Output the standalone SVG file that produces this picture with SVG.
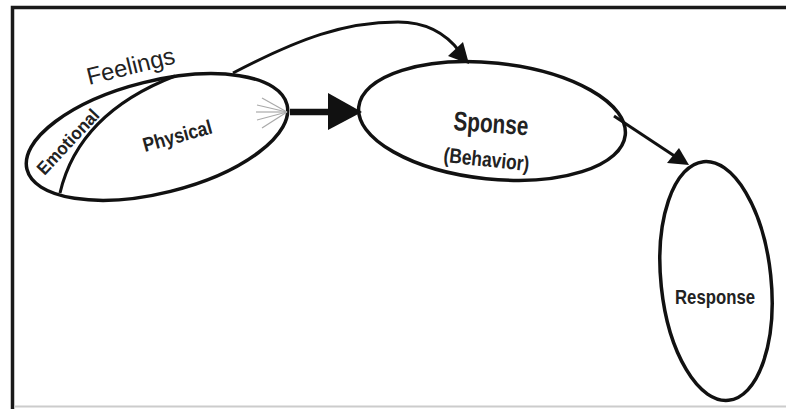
<svg xmlns="http://www.w3.org/2000/svg" width="786" height="409" viewBox="0 0 786 409">
<defs>
<style>
.node{fill:#fff;stroke:#111;stroke-width:3.5}
.lbl{font-family:"Liberation Sans",Arial,sans-serif;fill:#222}
.b{font-weight:bold}
.conn{fill:none;stroke:#111;stroke-width:3}
.ray{stroke:#aaa;stroke-width:1.2}
</style>
</defs>
<rect x="0" y="0" width="786" height="409" fill="#fff"/>
<path d="M12.5,409 V7.5 H786" fill="none" stroke="#1a1a1a" stroke-width="3.5"/>
<line x1="14" y1="406.5" x2="786" y2="406.5" stroke="#ccc" stroke-width="2"/>

<g id="feelings">
<ellipse class="node" cx="157" cy="137" rx="134" ry="56" transform="rotate(-14 157 137)" stroke-width="3.8"/>
<path d="M60,193 C70,150 100,105 175,76" fill="none" stroke="#111" stroke-width="3"/>
<g class="ray">
<line x1="287" y1="112" x2="262" y2="98"/>
<line x1="287" y1="112" x2="257" y2="105"/>
<line x1="287" y1="112" x2="256" y2="112"/>
<line x1="287" y1="112" x2="257" y2="120"/>
<line x1="287" y1="112" x2="262" y2="128"/>
</g>
<text class="lbl" transform="translate(89,85) rotate(-14)" font-size="24" textLength="90" lengthAdjust="spacingAndGlyphs" fill="#333">Feelings</text>
<text class="lbl b" transform="translate(68,142) rotate(-47)" font-size="18" text-anchor="middle" dy="6" textLength="82" lengthAdjust="spacingAndGlyphs">Emotional</text>
<text class="lbl b" transform="translate(145,152) rotate(-15.5)" font-size="20" textLength="71" lengthAdjust="spacingAndGlyphs">Physical</text>
</g>

<g id="sponse">
<ellipse class="node" cx="492" cy="121" rx="134" ry="58" transform="rotate(6 492 121)"/>
<text class="lbl b" transform="translate(453,130) rotate(4)" font-size="27" textLength="75" lengthAdjust="spacingAndGlyphs">Sponse</text>
<text class="lbl" transform="translate(443,162) rotate(6)" font-size="21" textLength="86" lengthAdjust="spacingAndGlyphs" font-weight="600">(Behavior)</text>
</g>

<g id="response">
<ellipse class="node" cx="716" cy="281" rx="55" ry="120" transform="rotate(-6 716 281)"/>
<text class="lbl b" x="675" y="304" font-size="21" textLength="80" lengthAdjust="spacingAndGlyphs">Response</text>
</g>

<g id="connectors">
<path class="conn" d="M233,73 C300,38 345,22 398,22 C428,22 448,36 460,52"/>
<polygon points="448,56 463,42 469,64" fill="#111"/>
<line x1="290" y1="112" x2="330" y2="112" stroke="#111" stroke-width="6.5"/>
<polygon points="328,93 362,112 328,130" fill="#111"/>
<line class="conn" x1="614" y1="116" x2="676" y2="157"/>
<polygon points="667,163 679,148 689,165" fill="#111"/>
</g>
</svg>
